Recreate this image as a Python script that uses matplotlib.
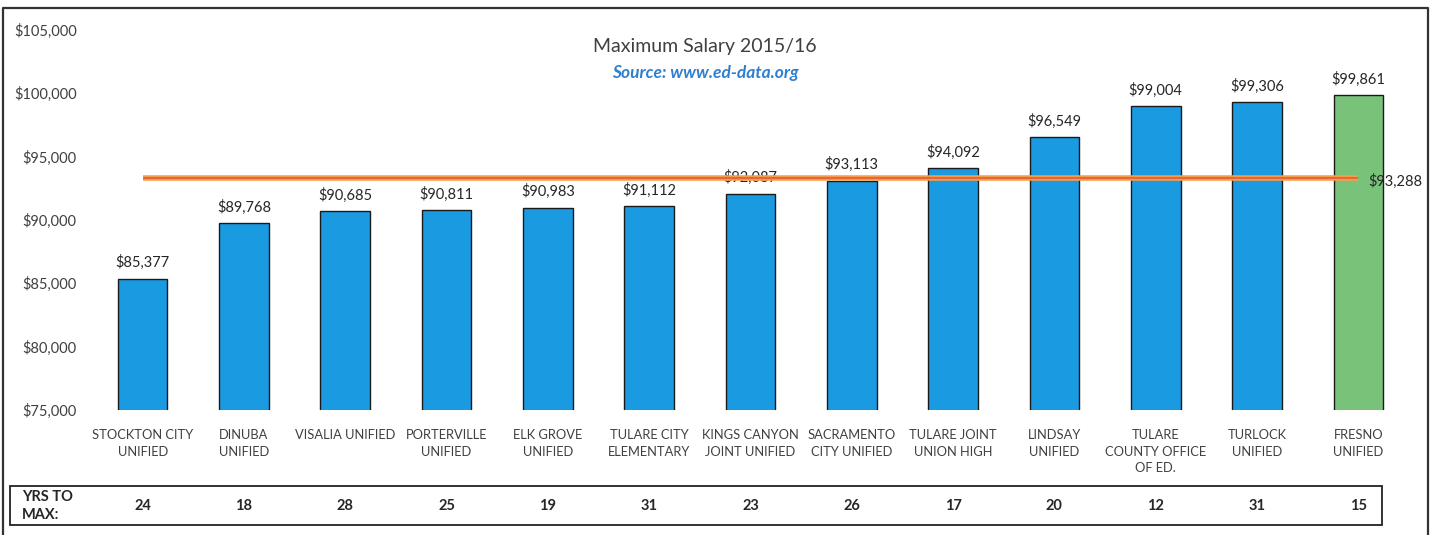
import matplotlib.pyplot as plt
from matplotlib.lines import Line2D
from matplotlib.patches import Rectangle
import matplotlib.transforms as mtransforms

districts = ["STOCKTON CITY\nUNIFIED", "DINUBA\nUNIFIED", "VISALIA UNIFIED",
             "PORTERVILLE\nUNIFIED", "ELK GROVE\nUNIFIED", "TULARE CITY\nELEMENTARY",
             "KINGS CANYON\nJOINT UNIFIED", "SACRAMENTO\nCITY UNIFIED",
             "TULARE JOINT\nUNION HIGH", "LINDSAY\nUNIFIED",
             "TULARE\nCOUNTY OFFICE\nOF ED.", "TURLOCK\nUNIFIED", "FRESNO\nUNIFIED"]
max_salary = [85377, 89768, 90685, 90811, 90983, 91112, 92087, 93113,
              94092, 96549, 99004, 99306, 99861]
yrs_to_max = [24, 18, 28, 25, 19, 31, 23, 26, 17, 20, 12, 31, 15]
y_ticks = [75000, 80000, 85000, 90000, 95000, 100000, 105000]

plt.rcParams['font.family'] = ['Lato', 'DejaVu Sans']

W, H = 1439, 535
fig = plt.figure(figsize=(W / 100, H / 100), dpi=100)
ax = fig.add_axes([92 / W, 1 - 410 / H, (1409 - 92) / W, 380 / H])

x = list(range(len(districts)))
colors = ['#1a9ae0'] * (len(districts) - 1) + ['#78c27a']
ax.bar(x, max_salary, width=0.49, color=colors, edgecolor='#1a1a1a', linewidth=1.0, zorder=2)

for xi, v in zip(x, max_salary):
    ax.text(xi, v + 650, f"${v:,}", ha='center', va='bottom', fontsize=10.5, color='#262626')

avg = sum(max_salary) / len(max_salary)
ax.plot([x[0], x[-1]], [avg, avg], color='#f5a04a', linewidth=4, zorder=3, solid_capstyle='butt')
ax.plot([x[0], x[-1]], [avg, avg], color='#e8643a', linewidth=1.5, zorder=4, solid_capstyle='butt')
ax.text(x[-1] + 0.1, avg - 200, f"${avg:,.0f}", ha='left', va='center', fontsize=10.5,
        color='#262626', zorder=5)

ax.set_xlim(-0.5, len(districts) - 0.5)
ax.set_ylim(75000, 105000)
ax.set_yticks(y_ticks)
ax.set_yticklabels([f"${t:,}" for t in y_ticks], fontsize=10.5, color='#404040')
ax.set_xticks(x)
ax.set_xticklabels(districts, fontsize=9.3, color='#404040', linespacing=1.45, va='top')
ax.tick_params(axis='both', length=0)
ax.tick_params(axis='y', pad=11)
ax.tick_params(axis='x', pad=14)
for s in ax.spines.values():
    s.set_visible(False)

fig.text(705 / W, 1 - 47 / H, "Maximum Salary 2015/16", ha='center', va='center',
         fontsize=14, color='#404040')
fig.text(705 / W, 1 - 73 / H, "Source: www.ed-data.org", ha='center', va='center',
         fontsize=12.5, color='#2f7fd0', fontweight='bold', style='italic')

# outer chart border
fig.add_artist(Line2D([3 / W, 3 / W, 1428 / W, 1428 / W], [0, 1 - 8 / H, 1 - 8 / H, 0],
                      transform=fig.transFigure, color='#333333', linewidth=1.6))

# years-to-max table
fig.add_artist(Rectangle((10 / W, 1 - 525 / H), (1382 - 10) / W, 39 / H,
                         transform=fig.transFigure, fill=False, edgecolor='#222222', linewidth=1.3))
fig.text(22 / W, 1 - 506 / H, "YRS TO\nMAX:", ha='left', va='center', fontsize=10.5,
         fontweight='bold', color='#262626', linespacing=1.4)
trans = mtransforms.blended_transform_factory(ax.transData, fig.transFigure)
for xi, n in zip(x, yrs_to_max):
    ax.text(xi, 1 - 506 / H, str(n), transform=trans, ha='center', va='center',
            fontsize=10.5, fontweight='bold', color='#262626', clip_on=False)

fig.savefig('out.png', dpi=100)
